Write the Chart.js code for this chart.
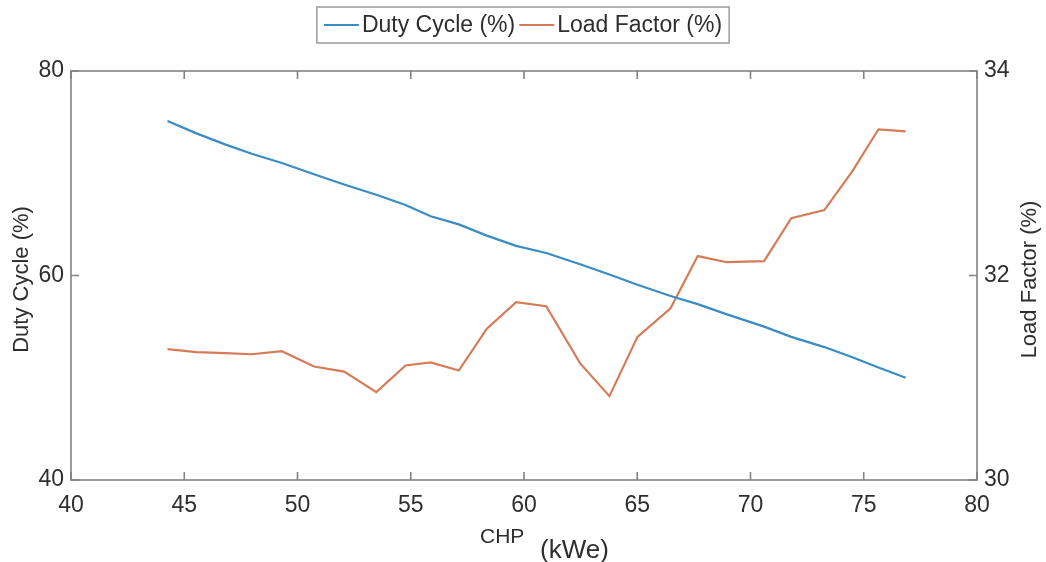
<!DOCTYPE html>
<html lang="en">
<head>
  <meta charset="UTF-8">
  <title>Duty Cycle and Load Factor vs CHP</title>
  <style>
    html, body { margin: 0; padding: 0; background: #fff; }
    #wrap { width: 1046px; height: 562px; }
  </style>
</head>
<body>
  <div id="wrap"><canvas id="chart" width="1046" height="562"></canvas></div>

  <script src="https://cdn.jsdelivr.net/npm/chart.js"></script>
  <script>
    // CHP size (kWe) for each run
    const chp = [44.26, 45.54, 46.83, 47.98, 49.31, 50.73, 52.06, 53.48, 54.77, 55.88,
                 57.12, 58.36, 59.65, 60.98, 62.48, 63.77, 65.01, 66.47, 67.67, 68.96,
                 70.60, 71.80, 73.26, 74.50, 75.65, 76.85];
    const dutyCycle = [75.1, 73.9, 72.8, 71.9, 71.0, 69.9, 68.9, 67.9, 66.9, 65.8,
                       65.0, 63.9, 62.9, 62.2, 61.1, 60.1, 59.1, 58.0, 57.2, 56.2,
                       55.0, 54.0, 53.0, 52.0, 51.0, 50.0];
    const loadFactor = [31.28, 31.25, 31.24, 31.23, 31.26, 31.11, 31.06, 30.86, 31.12, 31.15,
                        31.07, 31.48, 31.74, 31.70, 31.14, 30.82, 31.40, 31.68, 32.19, 32.13,
                        32.14, 32.56, 32.64, 33.02, 33.43, 33.41];
    const xTicks = [40, 45, 50, 55, 60, 65, 70, 75, 80];
    const seriesNames = ['Duty Cycle (%)', 'Load Factor (%)'];

    const FONT = "'Liberation Sans', Arial, Helvetica, sans-serif";
    const TEXT = '#2e2e2e';
    const AXIS = '#828282';
    const BLUE = '#3a8cc2';
    const ORANGE = '#d67b57';

    const toPoints = ys => chp.map((x, i) => ({ x, y: ys[i] }));

    // box, inside tick marks, legend and axis titles in the MATLAB look
    const decor = {
      id: 'decor',
      afterDraw(chart) {
        const { ctx, chartArea: a, scales } = chart;
        ctx.save();
        ctx.strokeStyle = AXIS;
        ctx.lineWidth = 1.6;
        ctx.strokeRect(a.left, a.top, a.right - a.left, a.bottom - a.top);

        const tl = 8;
        ctx.beginPath();
        scales.x.ticks.forEach(t => {
          const px = scales.x.getPixelForValue(t.value);
          ctx.moveTo(px, a.bottom); ctx.lineTo(px, a.bottom - tl);
          ctx.moveTo(px, a.top); ctx.lineTo(px, a.top + tl);
        });
        scales.y.ticks.forEach(t => {
          const py = scales.y.getPixelForValue(t.value);
          ctx.moveTo(a.left, py); ctx.lineTo(a.left + tl, py);
        });
        scales.y1.ticks.forEach(t => {
          const py = scales.y1.getPixelForValue(t.value);
          ctx.moveTo(a.right, py); ctx.lineTo(a.right - tl, py);
        });
        ctx.stroke();

        // legend
        ctx.font = '23px ' + FONT;
        ctx.textBaseline = 'middle';
        ctx.textAlign = 'left';
        const lineLen = 35, gap = 3, itemGap = 4, padX = 7;
        const widths = seriesNames.map(n => ctx.measureText(n).width);
        const total = padX * 2 + widths.reduce((s, w) => s + lineLen + gap + w, 0) + itemGap;
        let lx = (chart.width - total) / 2;
        const ly = 25;
        ctx.strokeStyle = '#a0a0a0';
        ctx.lineWidth = 1.6;
        ctx.strokeRect(lx, 7, total, 36);
        lx += padX;
        chart.data.datasets.forEach((ds, i) => {
          ctx.strokeStyle = ds.borderColor;
          ctx.lineWidth = 2;
          ctx.beginPath();
          ctx.moveTo(lx, ly); ctx.lineTo(lx + lineLen, ly);
          ctx.stroke();
          ctx.fillStyle = TEXT;
          ctx.fillText(ds.label, lx + lineLen + gap, ly + 1);
          lx += lineLen + gap + widths[i] + itemGap;
        });

        // axis titles
        ctx.fillStyle = TEXT;
        ctx.textAlign = 'center';
        ctx.font = '22px ' + FONT;
        const cy = (a.top + a.bottom) / 2;
        ctx.save();
        ctx.translate(22, cy + 4);
        ctx.rotate(-Math.PI / 2);
        ctx.fillText('Duty Cycle (%)', 0, 0);
        ctx.restore();
        ctx.save();
        ctx.translate(1030, cy + 4);
        ctx.rotate(-Math.PI / 2);
        ctx.fillText('Load Factor (%)', 0, 0);
        ctx.restore();

        ctx.textBaseline = 'alphabetic';
        ctx.textAlign = 'left';
        ctx.font = '21px ' + FONT;
        ctx.fillText('CHP', 480, 543);
        ctx.font = '26px ' + FONT;
        ctx.fillText('(kWe)', 540, 558);
        ctx.restore();
      }
    };

    new Chart(document.getElementById('chart'), {
      type: 'line',
      data: {
        datasets: [
          { label: seriesNames[0], data: toPoints(dutyCycle), yAxisID: 'y',
            borderColor: BLUE, borderWidth: 2.2, pointRadius: 0, tension: 0 },
          { label: seriesNames[1], data: toPoints(loadFactor), yAxisID: 'y1',
            borderColor: ORANGE, borderWidth: 2.2, pointRadius: 0, tension: 0 }
        ]
      },
      options: {
        responsive: false,
        animation: false,
        layout: { padding: { top: 71, left: 0, right: 0, bottom: 0 } },
        plugins: { legend: { display: false }, tooltip: { enabled: false } },
        scales: {
          x: {
            type: 'linear', min: 40, max: 80,
            afterBuildTicks: s => { s.ticks = xTicks.map(v => ({ value: v })); },
            afterFit: s => { s.height = 82; },
            grid: { display: false, drawTicks: false },
            border: { display: false },
            ticks: { padding: 12, color: TEXT, font: { family: FONT, size: 23 } }
          },
          y: {
            position: 'left', min: 40, max: 80,
            afterFit: s => { s.width = 71; },
            grid: { display: false, drawTicks: false },
            border: { display: false },
            ticks: { stepSize: 20, padding: 7, color: TEXT, font: { family: FONT, size: 23 } }
          },
          y1: {
            position: 'right', min: 30, max: 34,
            afterFit: s => { s.width = 69; },
            grid: { display: false, drawTicks: false },
            border: { display: false },
            ticks: { stepSize: 2, padding: 7, color: TEXT, font: { family: FONT, size: 23 } }
          }
        }
      },
      plugins: [decor]
    });
  </script>
</body>
</html>
